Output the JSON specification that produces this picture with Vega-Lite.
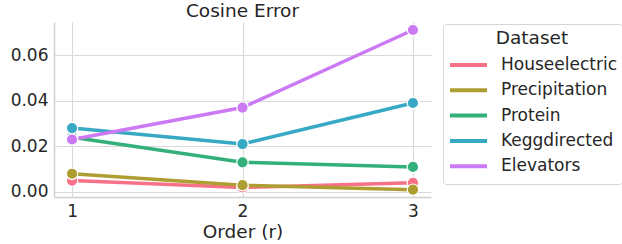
{
  "$schema": "https://vega.github.io/schema/vega-lite/v6.json",
  "autosize": "none",
  "padding": {"left": 54, "top": 22, "right": 191, "bottom": 47},
  "width": 377,
  "height": 175,
  "background": "white",
  "config": {
    "font": "DejaVu Sans",
    "view": {"stroke": null},
    "axis": {
      "labelFont": "DejaVu Sans",
      "titleFont": "DejaVu Sans",
      "labelColor": "#262626",
      "titleColor": "#262626",
      "gridColor": "#d9d9d9",
      "gridWidth": 1.2,
      "domainColor": "#d0d0d0",
      "domainWidth": 1.5,
      "ticks": false,
      "labelFontSize": 17,
      "titleFontSize": 18.5,
      "titleFontWeight": "normal"
    }
  },
  "title": {
    "text": "Cosine Error",
    "fontSize": 18.5,
    "fontWeight": "normal",
    "font": "DejaVu Sans",
    "color": "#262626",
    "offset": 1
  },
  "data": {
    "values": [
      {"order": 1, "dataset": "Houseelectric", "error": 0.005},
      {"order": 2, "dataset": "Houseelectric", "error": 0.002},
      {"order": 3, "dataset": "Houseelectric", "error": 0.004},
      {"order": 1, "dataset": "Precipitation", "error": 0.008},
      {"order": 2, "dataset": "Precipitation", "error": 0.003},
      {"order": 3, "dataset": "Precipitation", "error": 0.001},
      {"order": 1, "dataset": "Protein", "error": 0.024},
      {"order": 2, "dataset": "Protein", "error": 0.013},
      {"order": 3, "dataset": "Protein", "error": 0.011},
      {"order": 1, "dataset": "Keggdirected", "error": 0.028},
      {"order": 2, "dataset": "Keggdirected", "error": 0.021},
      {"order": 3, "dataset": "Keggdirected", "error": 0.039},
      {"order": 1, "dataset": "Elevators", "error": 0.023},
      {"order": 2, "dataset": "Elevators", "error": 0.037},
      {"order": 3, "dataset": "Elevators", "error": 0.071}
    ]
  },
  "encoding": {
    "x": {
      "field": "order",
      "type": "quantitative",
      "scale": {"domain": [0.894, 3.106], "nice": false, "zero": false},
      "axis": {"values": [1, 2, 3], "format": "d", "title": "Order (r)", "labelPadding": 6, "titlePadding": 3}
    },
    "y": {
      "field": "error",
      "type": "quantitative",
      "scale": {"domain": [-0.0022, 0.0745], "nice": false, "zero": false},
      "axis": {"values": [0, 0.02, 0.04, 0.06], "format": ".2f", "title": null, "labelPadding": 6}
    },
    "color": {
      "field": "dataset",
      "type": "nominal",
      "sort": ["Houseelectric", "Precipitation", "Protein", "Keggdirected", "Elevators"],
      "scale": {
        "domain": ["Houseelectric", "Precipitation", "Protein", "Keggdirected", "Elevators"],
        "range": ["#f77189", "#ae9d31", "#33b07a", "#38a9c5", "#cc7af4"]
      },
      "legend": {
        "title": "Dataset",
        "orient": "none",
        "legendX": 389,
        "legendY": 2,
        "symbolType": "M-1,0H1",
        "symbolSize": 1369,
        "symbolStrokeWidth": 4,
        "labelFontSize": 17,
        "labelFont": "DejaVu Sans",
        "labelColor": "#262626",
        "titleFontSize": 18.5,
        "titleFont": "DejaVu Sans",
        "titleFontWeight": "normal",
        "titleColor": "#262626",
        "titleAnchor": "middle",
        "titleAlign": "center",
        "titlePadding": 5,
        "rowPadding": 0.3,
        "clipHeight": 25,
        "labelOffset": 12,
        "padding": 5,
        "strokeColor": "#d6d6d6",
        "cornerRadius": 3,
        "fillColor": "white"
      }
    }
  },
  "layer": [
    {"mark": {"type": "line", "strokeWidth": 3.5}},
    {"mark": {"type": "point", "filled": true, "size": 130, "opacity": 1, "stroke": "white", "strokeWidth": 1.2}}
  ]
}
